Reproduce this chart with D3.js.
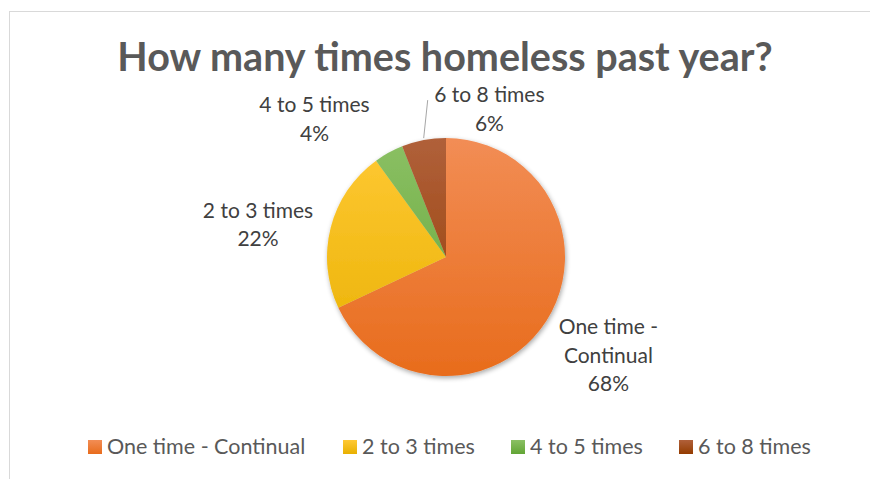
<!DOCTYPE html>
<html>
<head>
<meta charset="utf-8">
<script src="https://cdnjs.cloudflare.com/ajax/libs/d3/7.8.5/d3.min.js"></script>
<style>
  body { margin: 0; background: #fff; }
  svg { display: block; font-family: Lato, "Open Sans", sans-serif; }
</style>
</head>
<body>
<svg id="chart" width="870" height="479"></svg>
<script>
// data
var categories = ["One time - Continual", "2 to 3 times", "4 to 5 times", "6 to 8 times"];
var shares = [68, 22, 4, 6];
var percentLabels = ["68%", "22%", "4%", "6%"];
var title = "How many times homeless past year?";

// gradient colours (top, bottom) per slice
var topColors = ["#f28d55", "#ffc935", "#8bc064", "#b0603a"];
var bottomColors = ["#e86c1c", "#e8b000", "#62a535", "#943c00"];

var width = 870, height = 479;
var cx = 446, cy = 257, radius = 119;

var svg = d3.select("#chart");
var defs = svg.append("defs");

// chart frame
svg.append("rect")
  .attr("x", 9.5).attr("y", 11.5)
  .attr("width", width).attr("height", height)
  .attr("fill", "none")
  .attr("stroke", "#d9d9d9");

// title
svg.append("text")
  .attr("x", 445).attr("y", 71)
  .attr("text-anchor", "middle")
  .attr("font-size", "39.5px")
  .attr("font-weight", "bold")
  .attr("fill", "#595959")
  .text(title);

// gradients
categories.forEach(function(c, i) {
  var g = defs.append("linearGradient")
    .attr("id", "grad" + i)
    .attr("gradientUnits", "userSpaceOnUse")
    .attr("x1", 0).attr("y1", -radius)
    .attr("x2", 0).attr("y2", radius);
  g.append("stop").attr("offset", "0%").attr("stop-color", topColors[i]);
  g.append("stop").attr("offset", "100%").attr("stop-color", bottomColors[i]);
});

var shadow = defs.append("filter").attr("id", "shadow")
  .attr("x", "-20%").attr("y", "-20%").attr("width", "140%").attr("height", "140%");
shadow.append("feGaussianBlur").attr("in", "SourceAlpha").attr("stdDeviation", 2.5);
shadow.append("feOffset").attr("dx", 1).attr("dy", 2).attr("result", "blur");
shadow.append("feComponentTransfer").append("feFuncA").attr("type", "linear").attr("slope", 0.35);
var merge = shadow.append("feMerge");
merge.append("feMergeNode");
merge.append("feMergeNode").attr("in", "SourceGraphic");

var pie = d3.pie().sort(null).value(function(d) { return d; });
var arcs = pie(shares);
var arc = d3.arc().innerRadius(0).outerRadius(radius);
var labelArc = d3.arc().innerRadius(190).outerRadius(190);
var edgeArc = d3.arc().innerRadius(radius).outerRadius(radius);

var pieG = svg.append("g").attr("transform", "translate(" + cx + "," + cy + ")");

pieG.append("g").attr("filter", "url(#shadow)")
  .selectAll("path")
  .data(arcs)
  .enter().append("path")
  .attr("d", arc)
  .attr("fill", function(d, i) { return "url(#grad" + i + ")"; });

// data labels: name on first lines, percent on last line
var labelLines = [["One time -", "Continual"], ["2 to 3 times"], ["4 to 5 times"], ["6 to 8 times"]];
// nudges from the centroid of the label arc (Excel's own placement)
var labelNudge = [[2, -3], [-4, 15], [-40, 29], [79, 39]];
var lineH = 28.5;

arcs.forEach(function(a, i) {
  var c = labelArc.centroid(a);
  var lx = c[0] + labelNudge[i][0], ly = c[1] + labelNudge[i][1];
  var lines = labelLines[i].concat([percentLabels[i]]);
  var t = pieG.append("text")
    .attr("text-anchor", "middle")
    .attr("font-size", "21px")
    .attr("fill", "#404040");
  var y0 = ly - (lines.length - 1) * lineH / 2 + 7;
  lines.forEach(function(s, j) {
    t.append("tspan").attr("x", lx).attr("y", y0 + j * lineH).text(s);
  });
});

// leader line for the small "6 to 8 times" slice
var e = edgeArc.centroid(arcs[3]);
pieG.append("line")
  .attr("x1", e[0] + 4).attr("y1", e[1] - 40)
  .attr("x2", e[0]).attr("y2", e[1] - 2)
  .attr("stroke", "#a6a6a6")
  .attr("stroke-width", 1);

// legend
var legendX = [88, 343, 511, 679];
var legend = svg.append("g");
categories.forEach(function(c, i) {
  var g = defs.append("linearGradient").attr("id", "lg" + i)
    .attr("x1", 0).attr("y1", 0).attr("x2", 0).attr("y2", 1);
  g.append("stop").attr("offset", "0%").attr("stop-color", topColors[i]);
  g.append("stop").attr("offset", "100%").attr("stop-color", bottomColors[i]);
  legend.append("rect")
    .attr("x", legendX[i]).attr("y", 440)
    .attr("width", 14).attr("height", 14)
    .attr("fill", "url(#lg" + i + ")");
  legend.append("text")
    .attr("x", legendX[i] + 19).attr("y", 454)
    .attr("font-size", "21.5px")
    .attr("fill", "#595959")
    .text(c);
});
</script>
</body>
</html>
